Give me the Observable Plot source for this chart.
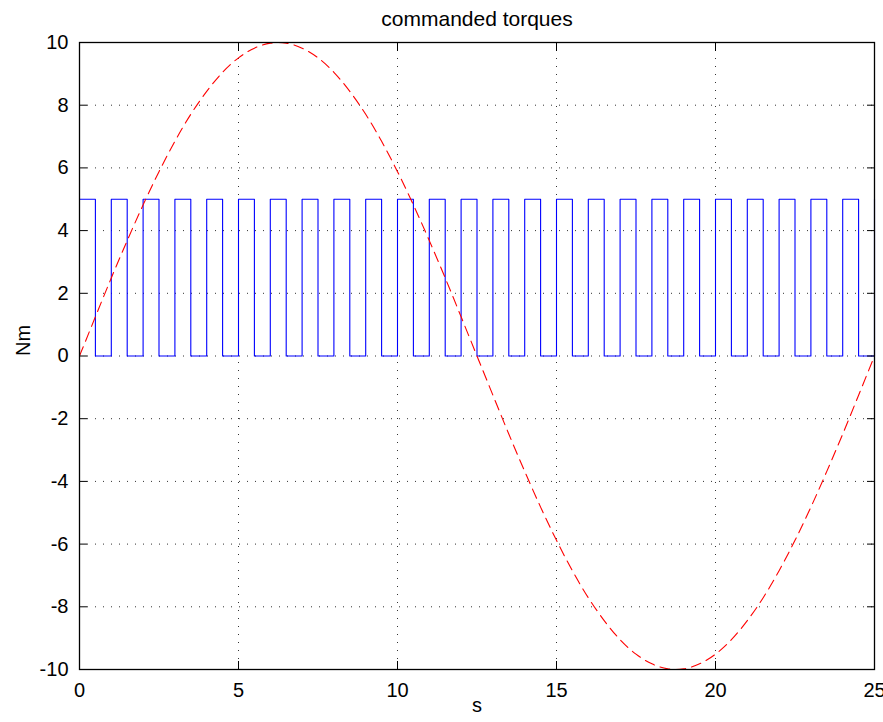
<!DOCTYPE html>
<html>
<head>
<meta charset="utf-8">
<script src="https://cdn.jsdelivr.net/npm/d3@7"></script>
<script src="https://cdn.jsdelivr.net/npm/@observablehq/plot@0.6"></script>
<style>
  html, body { margin: 0; padding: 0; background: #fff; }
  #chart svg { display: block; }
</style>
</head>
<body>
<div id="chart"></div>
<script>
// Sample times in seconds (0.5 s spacing)
const seconds = [
  0, 0.5, 1, 1.5, 2, 2.5, 3, 3.5, 4, 4.5,
  5, 5.5, 6, 6.5, 7, 7.5, 8, 8.5, 9, 9.5,
  10, 10.5, 11, 11.5, 12, 12.5, 13, 13.5, 14, 14.5,
  15, 15.5, 16, 16.5, 17, 17.5, 18, 18.5, 19, 19.5,
  20, 20.5, 21, 21.5, 22, 22.5, 23, 23.5, 24, 24.5, 25
];

// Pulsed torque command (Nm), held between samples
const pulseTorque = [
  5, 0, 5, 0, 5, 0, 5, 0, 5, 0,
  5, 0, 5, 0, 5, 0, 5, 0, 5, 0,
  5, 0, 5, 0, 5, 0, 5, 0, 5, 0,
  5, 0, 5, 0, 5, 0, 5, 0, 5, 0,
  5, 0, 5, 0, 5, 0, 5, 0, 5, 0, 5
];

// Slowly varying torque command (Nm)
const waveTorque = [
  0, 1.25, 2.49, 3.68, 4.82, 5.88, 6.85, 7.71, 8.44, 9.05,
  9.51, 9.82, 9.98, 9.98, 9.82, 9.51, 9.05, 8.44, 7.71, 6.85,
  5.88, 4.82, 3.68, 2.49, 1.25, 0, -1.25, -2.49, -3.68, -4.82,
  -5.88, -6.85, -7.71, -8.44, -9.05, -9.51, -9.82, -9.98, -9.98, -9.82,
  -9.51, -9.05, -8.44, -7.71, -6.85, -5.88, -4.82, -3.68, -2.49, -1.25, 0
];

const xTicks = [0, 5, 10, 15, 20, 25];
const yTicks = [-10, -8, -6, -4, -2, 0, 2, 4, 6, 8, 10];

const titleText = "commanded torques";
const xLabel = "s";
const yLabel = "Nm";

const pulseRows = seconds.map((t, i) => ({t, v: pulseTorque[i]}));
const waveRows = seconds.map((t, i) => ({t, v: waveTorque[i]}));

const fontFamily = "'Liberation Sans', Arial, Helvetica, sans-serif";
const tickLen = 8;
const plainNumber = (d) => String(d); // hyphen-minus, not the typographic minus

const chart = Plot.plot({
  width: 883,
  height: 722,
  marginLeft: 79,
  marginRight: 9,
  marginTop: 42,
  marginBottom: 53,
  style: {fontFamily, fontSize: "20px", color: "#000", background: "#fff"},
  x: {domain: [0, 25], ticks: xTicks, label: null},
  y: {domain: [-10, 10], ticks: yTicks, label: null},
  marks: [
    // dotted grid
    Plot.gridX(xTicks, {stroke: "#333", strokeOpacity: 1, strokeDasharray: "1,7"}),
    Plot.gridY(yTicks, {stroke: "#333", strokeOpacity: 1, strokeDasharray: "1,7"}),
    // signals
    Plot.line(pulseRows, {x: "t", y: "v", curve: "step-after", stroke: "#0000ff", strokeWidth: 1.1}),
    Plot.line(waveRows, {x: "t", y: "v", curve: "natural", stroke: "#ff0000", strokeWidth: 1.1, strokeDasharray: "10,6"}),
    // tick labels
    Plot.axisX(xTicks, {anchor: "bottom", tickSize: 0, tickPadding: 13, fontSize: 20, tickFormat: plainNumber}),
    Plot.axisY(yTicks, {anchor: "left", tickSize: 0, tickPadding: 11, fontSize: 20, tickFormat: plainNumber}),
    // inward tick marks on all four sides
    Plot.axisX(xTicks, {anchor: "bottom", tickSize: tickLen, dy: -tickLen, text: null, stroke: "#000"}),
    Plot.axisX(xTicks, {anchor: "top", tickSize: tickLen, dy: tickLen, text: null, stroke: "#000"}),
    Plot.axisY(yTicks, {anchor: "left", tickSize: tickLen, dx: tickLen, text: null, stroke: "#000"}),
    Plot.axisY(yTicks, {anchor: "right", tickSize: tickLen, dx: -tickLen, text: null, stroke: "#000"}),
    Plot.frame({stroke: "#000", strokeWidth: 1.3}),
    // title and axis labels
    Plot.text([titleText], {frameAnchor: "top", dy: -31, fontSize: 21}),
    Plot.text([xLabel], {frameAnchor: "bottom", dy: 42, fontSize: 20}),
    Plot.text([yLabel], {frameAnchor: "left", dx: -56, rotate: -90, fontSize: 20})
  ]
});

document.getElementById("chart").appendChild(chart);
</script>
</body>
</html>
